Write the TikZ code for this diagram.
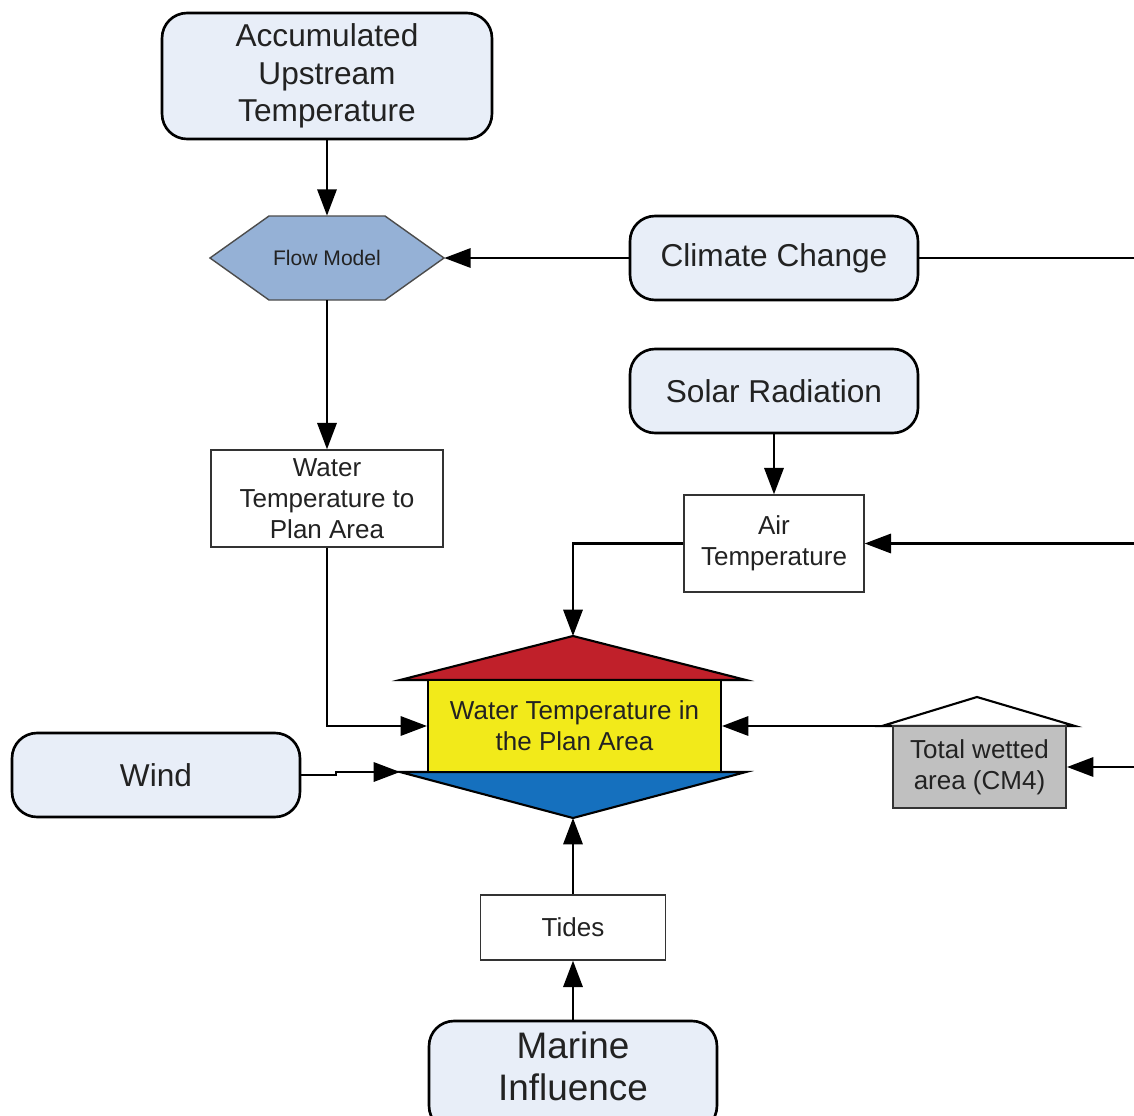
\documentclass[tikz,border=0pt]{standalone}
\usepackage{fontspec}
\setmainfont{Liberation Sans}
\usetikzlibrary{arrows.meta}
\definecolor{boxblue}{HTML}{E8EEF8}
\definecolor{hexblue}{HTML}{95B1D6}
\definecolor{roofred}{HTML}{C0202A}
\definecolor{coreyellow}{HTML}{F2EA1A}
\definecolor{keelblue}{HTML}{1570BE}
\definecolor{wetgray}{HTML}{C0C0C0}
\definecolor{ink}{HTML}{222222}
\begin{document}
\begin{tikzpicture}[x=0.02cm,y=-0.02cm,
  roundbox/.style={draw=black, line width=1.5pt, rounded corners=0.5cm, fill=boxblue,
    align=center, text=ink, inner sep=0pt, font=\fontsize{18}{21.5}\selectfont},
  plainbox/.style={draw=black!80, line width=0.8pt, fill=white, align=center, text=ink,
    inner sep=0pt, font=\fontsize{14.8}{17.8}\selectfont},
  shapeline/.style={draw=black, line width=1.2pt, line join=miter},
  link/.style={line width=1.3pt, -{Triangle[length=15pt,width=11pt]}},
  plainlink/.style={line width=1.3pt}]
\useasboundingbox (0,0) rectangle (1134,1116);
\clip (0,0) rectangle (1134,1116);

% rounded source boxes
\node[roundbox, minimum width=6.6cm, minimum height=2.52cm] (acc) at (327,76)
  {Accumulated\\Upstream\\Temperature};
\node[roundbox, minimum width=5.76cm, minimum height=1.68cm] (cc) at (774,258) {Climate Change};
\node[roundbox, minimum width=5.76cm, minimum height=1.68cm] (sr) at (774,391) {Solar Radiation};
\node[roundbox, minimum width=5.76cm, minimum height=1.68cm] (wind) at (156,775) {Wind};
\node[roundbox, minimum width=5.76cm, minimum height=2.2cm] (mi) at (573,1076) {};
\node[align=center, text=ink, font=\fontsize{21}{24}\selectfont] (mitext) at (573,1066)
  {Marine\\Influence};

% flow model hexagon
\filldraw[fill=hexblue, draw=black!70, line width=0.8pt]
  (210,258) -- (269,216) -- (385,216) -- (444,258) -- (385,300) -- (269,300) -- cycle;
\node[minimum width=4.68cm, minimum height=1.68cm, inner sep=0pt, text=ink,
  font=\fontsize{12}{14}\selectfont] (fm) at (327,258) {Flow Model};

% plain rectangles
\node[plainbox, minimum width=4.64cm, minimum height=1.94cm] (wtp) at (327,498.5)
  {Water\\Temperature to\\Plan Area};
\node[plainbox, minimum width=3.6cm, minimum height=1.94cm] (air) at (774,543.5)
  {Air\\Temperature};
\node[plainbox, minimum width=3.7cm, minimum height=1.3cm] (tides) at (573,927.5) {Tides};

% central water temperature shape
\filldraw[shapeline, fill=roofred] (400,680) -- (573,636) -- (746,680) -- cycle;
\filldraw[shapeline, fill=keelblue] (400,772) -- (573,818) -- (746,772) -- cycle;
\node[draw=black, line width=1.2pt, fill=coreyellow, minimum width=5.86cm, minimum height=1.84cm,
  inner sep=0pt, align=center, text=ink, font=\fontsize{14.8}{17.8}\selectfont] (wt) at (574.5,726)
  {Water Temperature in\\the Plan Area};
\coordinate (roof) at (573,636);
\coordinate (keel) at (573,818);
\coordinate (keelL) at (400,772);

% total wetted area
\filldraw[draw=black, line width=1.2pt, fill=white] (882,726) -- (977,697) -- (1075,726) -- cycle;
\node[draw=black!80, line width=1.2pt, fill=wetgray, minimum width=3.46cm, minimum height=1.64cm,
  inner sep=0pt, align=center, text=ink, font=\fontsize{14.8}{17.8}\selectfont] (tw) at (979.5,767)
  {Total wetted\\area (CM4)};
\coordinate (twroofL) at (882,726);

% free ends at the right margin
\coordinate (ccout) at (1134,258);
\coordinate (airin) at (1134,543.5);
\coordinate (twin) at (1134,767);
\coordinate (windjog) at (336,775);
\coordinate (windjog2) at (336,772);

% connectors
\draw[link] (acc.south) -- (fm.north);
\draw[link] (cc.west) -- (fm.east);
\draw[plainlink] (cc.east) -- (ccout);
\draw[link] (fm.south) -- (wtp.north);
\draw[link] (sr.south) -- (air.north);
\draw[link] (airin) -- (air.east);
\draw[link] (air.west) -| (roof);
\draw[link] (wtp.south) |- (wt.west);
\draw[link] (twroofL) -- (wt.east);
\draw[link] (twin) -- (tw.east);
\draw[link] (wind.east) -- (windjog) -- (windjog2) -- (keelL);
\draw[link] (tides.north) -- (keel);
\draw[link] (mi.north) -- (tides.south);
\end{tikzpicture}
\end{document}
